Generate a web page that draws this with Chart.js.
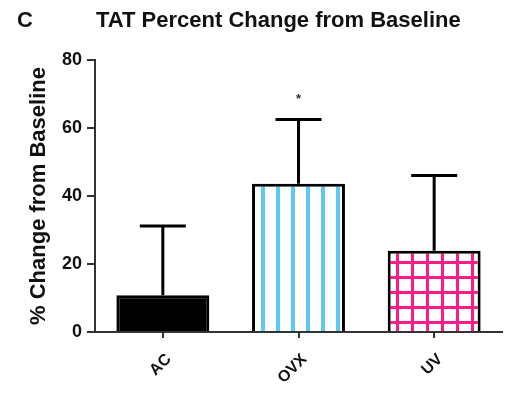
<!DOCTYPE html>
<html>
<head>
<meta charset="utf-8">
<script src="https://cdn.jsdelivr.net/npm/chart.js@4"></script>
<style>
  html, body { margin: 0; padding: 0; background: #fff; }
  #wrap { width: 506px; height: 402px; }
</style>
</head>
<body>
<div id="wrap"><canvas id="barChart" width="506" height="402"></canvas></div>
<script>
// data
var groups = ["AC", "OVX", "UV"];
var means = [10.8, 43.6, 23.9];
var sdUpper = [31.2, 62.5, 46.0];
var signif = ["", "*", ""];
var yTicks = [0, 20, 40, 60, 80];

/* fill patterns: solid black, blue vertical stripes, pink grid */
function stripes(color) {
    var c = document.createElement("canvas");
    c.width = 15; c.height = 15;
    var g = c.getContext("2d");
    g.fillStyle = "#fff";
    g.fillRect(0, 0, 15, 15);
    g.fillStyle = color;
    g.fillRect(6, 0, 4, 15);
    return g.createPattern(c, "repeat");
}
function grid(color) {
    var c = document.createElement("canvas");
    c.width = 15; c.height = 15;
    var g = c.getContext("2d");
    g.fillStyle = "#fff";
    g.fillRect(0, 0, 15, 15);
    g.fillStyle = color;
    g.fillRect(6, 0, 3, 15);
    g.fillRect(0, 6, 15, 3);
    return g.createPattern(c, "repeat");
}
var fills = ["#000", stripes("#5ec8f2"), grid("#ff1a85")];

var errorBars = {
    id: "errorBars",
    afterDatasetsDraw: function (chart) {
        var ctx = chart.ctx;
        var x = chart.scales.x, y = chart.scales.y;
        ctx.save();
        ctx.strokeStyle = "#000";
        ctx.lineWidth = 3;
        groups.forEach(function (g, i) {
            var px = x.getPixelForValue(i);
            var top = y.getPixelForValue(sdUpper[i]);
            var base = y.getPixelForValue(means[i]);
            ctx.beginPath();
            ctx.moveTo(px, base);
            ctx.lineTo(px, top);
            ctx.moveTo(px - 23, top);
            ctx.lineTo(px + 23, top);
            ctx.stroke();
            if (signif[i]) {
                ctx.fillStyle = "#333";
                ctx.font = "bold 13px 'Liberation Sans', Arial, sans-serif";
                ctx.textAlign = "center";
                ctx.textBaseline = "middle";
                ctx.fillText(signif[i], px, top - 20);
            }
        });
        ctx.restore();
    },
    afterDraw: function (chart) {
        var ctx = chart.ctx;
        ctx.save();
        ctx.fillStyle = "#111";
        ctx.textBaseline = "middle";
        ctx.font = "bold 22px 'Liberation Sans', Arial, sans-serif";
        ctx.fillText("C", 17, 21);
        ctx.fillText("TAT Percent Change from Baseline", 96, 21);
        ctx.restore();
    }
};

var ctxB = document.getElementById("barChart").getContext("2d");
var myBarChart = new Chart(ctxB, {
    type: "bar",
    data: {
        labels: groups,
        datasets: [{
            data: means,
            backgroundColor: fills,
            borderColor: "#000",
            borderWidth: 3,
            borderSkipped: "bottom",
            barPercentage: 0.685,
            categoryPercentage: 1.0
        }]
    },
    options: {
        responsive: false,
        animation: false,
        layout: {
            padding: { top: 60, right: 4, left: 0, bottom: 0 }
        },
        plugins: {
            legend: { display: false },
            tooltip: { enabled: false }
        },
        scales: {
            x: {
                afterFit: function (scale) { scale.height = 70; },
                border: { display: true, color: "#333", width: 2 },
                grid: {
                    offset: false,
                    drawOnChartArea: false,
                    drawTicks: true,
                    tickLength: 6,
                    color: "#333",
                    lineWidth: 2
                },
                ticks: {
                    minRotation: 45,
                    maxRotation: 45,
                    padding: 12,
                    labelOffset: 6,
                    color: "#111",
                    font: { family: "'Liberation Sans', Arial, sans-serif", size: 16, weight: "bold" }
                }
            },
            y: {
                min: 0,
                max: 80,
                afterFit: function (scale) { scale.width = 95; },
                afterBuildTicks: function (scale) {
                    scale.ticks = yTicks.map(function (v) { return { value: v }; });
                },
                border: { display: true, color: "#333", width: 2 },
                grid: {
                    drawOnChartArea: false,
                    drawTicks: true,
                    tickLength: 8,
                    color: "#333",
                    lineWidth: 2
                },
                ticks: {
                    padding: 5,
                    color: "#111",
                    font: { family: "'Liberation Sans', Arial, sans-serif", size: 18, weight: "bold" }
                },
                title: {
                    display: true,
                    text: "% Change from Baseline",
                    color: "#111",
                    padding: { top: 26, bottom: 0 },
                    font: { family: "'Liberation Sans', Arial, sans-serif", size: 22, weight: "bold" }
                }
            }
        }
    },
    plugins: [errorBars]
});
</script>
</body>
</html>
